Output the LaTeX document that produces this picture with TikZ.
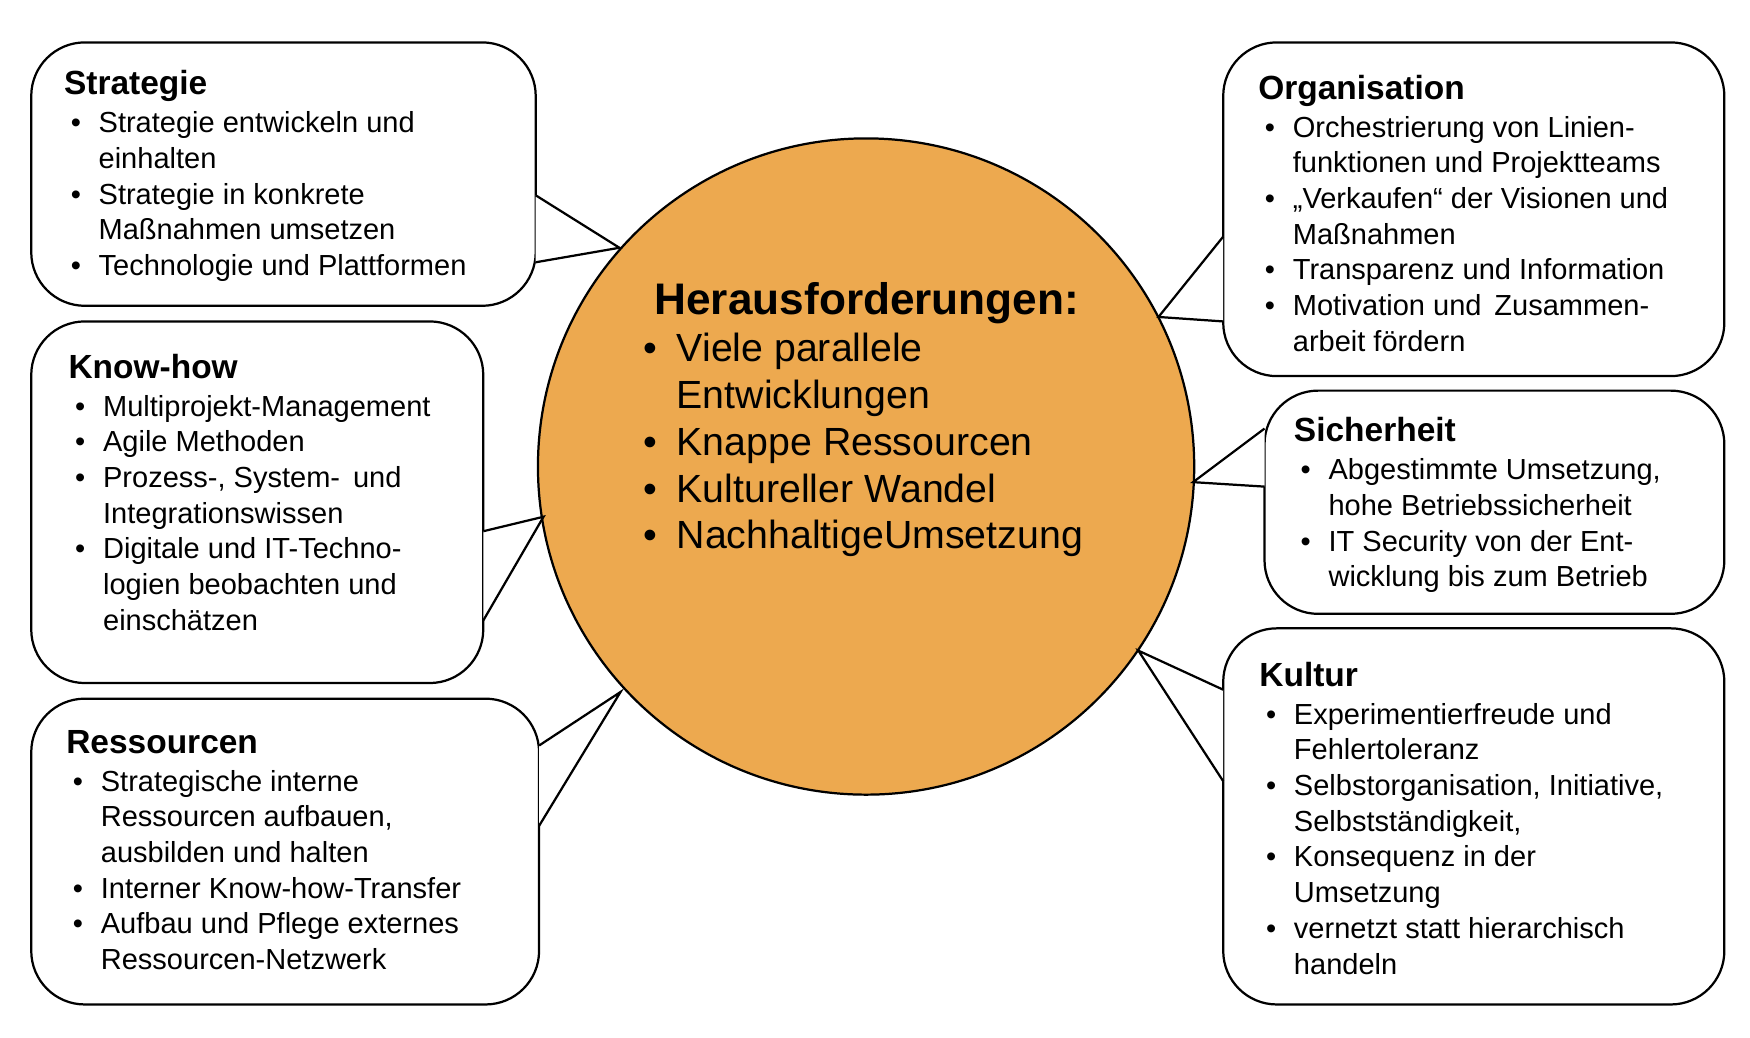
\documentclass[tikz,border=0pt]{standalone}
\usepackage{fontspec}
\setmainfont{Liberation Sans}
\definecolor{orng}{HTML}{EDA94F}
\newcommand{\bl}[1]{\hspace*{3pt}\textbullet & #1\\}
\newcommand{\cl}[1]{ & #1\\}
\newenvironment{bxlist}[1]{\fontsize{13}{16}\selectfont\begin{tabular}{@{}p{15.5pt}@{}l@{}}\multicolumn{2}{@{}l@{}}{\fontsize{15}{17}\selectfont\bfseries #1}\\[1pt]}{\end{tabular}}
\tikzset{bxtext/.style={anchor=north west,inner sep=0pt,align=left},
 box/.style={draw=black,line width=1pt,fill=white,rounded corners=24pt}}
\begin{document}
\begin{tikzpicture}[x=0.5pt,y=-0.5pt]
\useasboundingbox (0,0) rectangle (1568,930);
\node[circle,fill=orng,draw=black,line width=1pt,minimum size=294pt,inner sep=0pt] (c) at (776,418) {};
% pointer tips
\coordinate (t1) at (555,222);\coordinate (t2) at (487,463);\coordinate (t3) at (556,620);
\coordinate (t4) at (1038,284);\coordinate (t5) at (1069,432);\coordinate (t6) at (1020,583);
\newcommand{\callout}[9]{% x1 y1 x2 y2 name ya yb tip side(x)
 \draw[box] (#1,#2) rectangle (#3,#4);
 \fill[white] (#9,#6) -- (#8) -- (#9,#7) -- cycle;
 \draw[line width=1pt] (#9,#6) -- (#8) -- (#9,#7);}
\callout{28}{38}{480}{274}{s}{175}{235}{t1}{480}
\callout{28}{288}{433}{612}{k}{476}{556}{t2}{433}
\callout{28}{626}{483}{900}{r}{668}{740}{t3}{483}
\callout{1096}{38}{1545}{337}{o}{212}{288}{t4}{1096}
\callout{1133}{350}{1545}{550}{si}{384}{436}{t5}{1133}
\callout{1096}{563}{1545}{900}{ku}{618}{700}{t6}{1096}
\node[bxtext] (ns) at (57,62) {\begin{bxlist}{Strategie}
\bl{Strategie entwickeln und}\cl{einhalten}\bl{Strategie in konkrete}\cl{Maßnahmen umsetzen}\bl{Technologie und Plattformen}\end{bxlist}};
\node[bxtext] (nk) at (61,316) {\begin{bxlist}{Know-how}
\bl{Multiprojekt-Management}\bl{Agile Methoden}\bl{Prozess-, System-\, und}\cl{Integrationswissen}\bl{Digitale und IT-Techno-}\cl{logien beobachten und}\cl{einschätzen}\end{bxlist}};
\node[bxtext] (nr) at (59,652) {\begin{bxlist}{Ressourcen}
\bl{Strategische interne}\cl{Ressourcen aufbauen,}\cl{ausbilden und halten}\bl{Interner Know-how-Transfer}\bl{Aufbau und Pflege externes}\cl{Ressourcen-Netzwerk}\end{bxlist}};
\node[bxtext] (no) at (1127,66) {\begin{bxlist}{Organisation}
\bl{Orchestrierung von Linien-}\cl{funktionen und Projektteams}\bl{„Verkaufen“ der Visionen und}\cl{Maßnahmen}\bl{Transparenz und Information}\bl{Motivation und\, Zusammen-}\cl{arbeit fördern}\end{bxlist}};
\node[bxtext] (nsi) at (1159,373) {\begin{bxlist}{Sicherheit}
\bl{Abgestimmte Umsetzung,}\cl{hohe Betriebssicherheit}\bl{IT Security von der Ent-}\cl{wicklung bis zum Betrieb}\end{bxlist}};
\node[bxtext] (nku) at (1128,592) {\begin{bxlist}{Kultur}
\bl{Experimentierfreude und}\cl{Fehlertoleranz}\bl{Selbstorganisation, Initiative,}\cl{Selbstständigkeit,}\bl{Konsequenz in der}\cl{Umsetzung}\bl{vernetzt statt hierarchisch}\cl{handeln}\end{bxlist}};
\node[bxtext] (nc) at (576,252) {\fontsize{17.6}{21}\selectfont\begin{tabular}{@{}p{15pt}@{}l@{}}
\multicolumn{2}{@{}l@{}}{\hspace*{5pt}\fontsize{19.8}{22}\selectfont\bfseries Herausforderungen:}\\
\textbullet & Viele parallele\\ & Entwicklungen\\ \textbullet & Knappe Ressourcen\\
\textbullet & Kultureller Wandel\\ \textbullet & NachhaltigeUmsetzung\\\end{tabular}};
\end{tikzpicture}
\end{document}
